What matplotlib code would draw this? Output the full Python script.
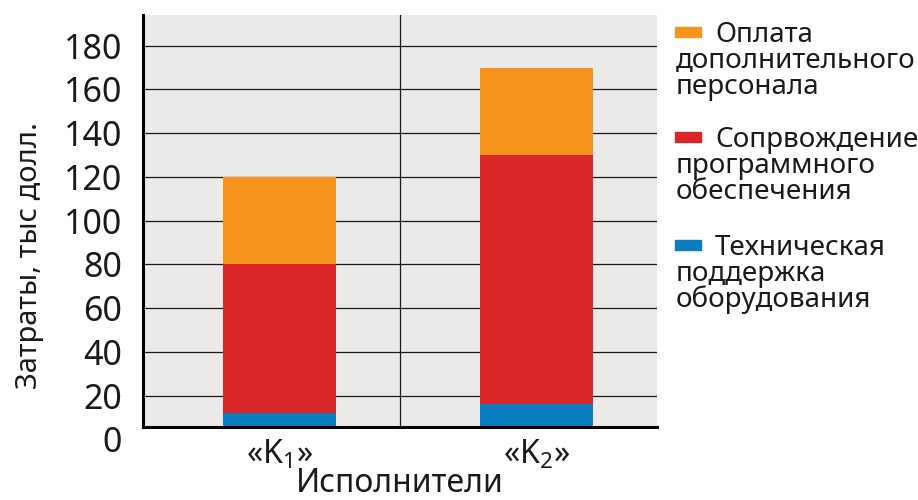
import matplotlib
matplotlib.use("Agg")
import matplotlib.pyplot as plt
from matplotlib.patches import Rectangle

plt.rcParams["font.family"] = ["Noto Sans", "DejaVu Sans"]
plt.rcParams["mathtext.fontset"] = "custom"
plt.rcParams["mathtext.rm"] = "Noto Sans"

# Contractors and cost components, thousand dollars
contractors = ["«K$_{\\mathregular{1}}$»", "«K$_{\\mathregular{2}}$»"]
hardware_support = [12, 16]
software_support = [68, 114]
extra_staff = [40, 40]

series_names = [
    "Оплата\nдополнительного\nперсонала",
    "Сопрвождение\nпрограммного\nобеспечения",
    "Техническая\nподдержка\nоборудования",
]
series_colors = ["#F7941E", "#DA2529", "#0B7DC1"]

y_ticks = [20, 40, 60, 80, 100, 120, 140, 160, 180]

W, H = 918, 500
fig = plt.figure(figsize=(W / 100, H / 100), dpi=100)
ax = fig.add_axes([143 / W, 73 / H, 514 / W, 412 / H])
ax.set_facecolor("#ECEAE8")

x = range(len(contractors))
width = 0.44
bottom2 = [a + b for a, b in zip(hardware_support, software_support)]
ax.bar(x, hardware_support, width, color=series_colors[2], zorder=3)
ax.bar(x, software_support, width, bottom=hardware_support,
       color=series_colors[1], zorder=3)
ax.bar(x, extra_staff, width, bottom=bottom2, color=series_colors[0], zorder=3)

ax.set_xlim(-0.53, 1.47)
ax.set_ylim(5.7, 194)
ax.axvline(0.47, color="#1a1a1a", lw=0.9, zorder=2)

ax.set_yticks(y_ticks)
ax.set_yticklabels([str(v) for v in y_ticks])
ax.yaxis.grid(True, color="#1a1a1a", lw=0.9, zorder=1)
ax.tick_params(axis="y", length=0, pad=15, labelsize=24.5, labelcolor="#1a1a1a")
# zero label sits below the clipped baseline
ax.text(0, -1.5, "0", transform=ax.get_yaxis_text1_transform(15)[0],
        ha="right", va="center", fontsize=24.5, color="#1a1a1a", clip_on=False)

ax.set_xticks(list(x))
ax.set_xticklabels(contractors)
ax.tick_params(axis="x", length=0, pad=8, labelsize=23, labelcolor="#1a1a1a")

for side in ["top", "right"]:
    ax.spines[side].set_visible(False)
ax.spines["left"].set_linewidth(2.2)
ax.spines["bottom"].set_linewidth(2.2)
ax.spines["left"].set_zorder(4)
ax.spines["bottom"].set_zorder(4)

ax.set_ylabel("Затраты, тыс долл.", fontsize=21, color="#1a1a1a")
ax.yaxis.set_label_coords(-0.22, 0.417)
ax.yaxis.label.set_va("center")
ax.set_xlabel("Исполнители", fontsize=23, color="#1a1a1a")
ax.xaxis.set_label_coords(0.5, -0.158)
ax.xaxis.label.set_va("baseline")

# legend drawn by hand: swatch + first line, other lines wrap under swatch
first_baselines = [42, 147, 255]
line_step = 26
for name, color, base in zip(series_names, series_colors, first_baselines):
    lines = name.split("\n")
    fig.add_artist(Rectangle((675 / W, 1 - (base - 5) / H), 26 / W, 10 / H,
                             transform=fig.transFigure, color=color))
    fig.text(715 / W, 1 - base / H, lines[0], fontsize=20, va="baseline",
             color="#1a1a1a")
    for i, line in enumerate(lines[1:], start=1):
        fig.text(676 / W, 1 - (base + i * line_step) / H, line, fontsize=20,
                 va="baseline", color="#1a1a1a")

fig.savefig("out.png", dpi=100)
